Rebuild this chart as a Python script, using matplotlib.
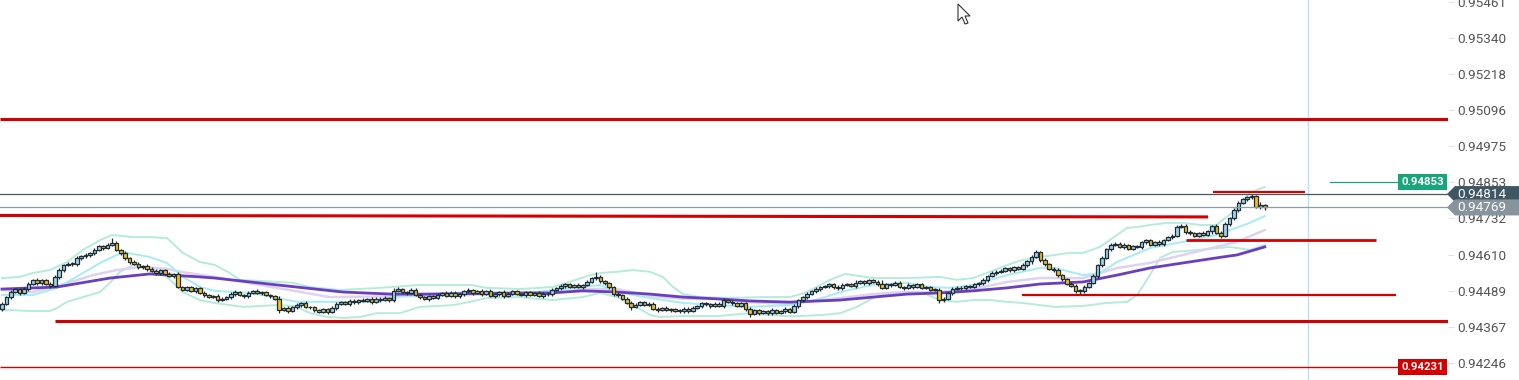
import matplotlib.pyplot as plt
import matplotlib.transforms as mtrans
from matplotlib.patches import Polygon, Rectangle

plt.rcParams['font.family'] = ['Roboto', 'DejaVu Sans']

# candle data (one candle per bar, open = previous close)
first_open = 0.94428
closes = [
    0.94444, 0.94466, 0.94484, 0.94493, 0.94481, 0.94495, 0.94511, 0.94524, 0.94514, 0.94523,
    0.94512, 0.94506, 0.94535, 0.94558, 0.94575, 0.94580, 0.94578, 0.94599, 0.94604, 0.94609,
    0.94615, 0.94625, 0.94638, 0.94634, 0.94644, 0.94650, 0.94625, 0.94615, 0.94597, 0.94585,
    0.94580, 0.94568, 0.94572, 0.94562, 0.94556, 0.94548, 0.94557, 0.94545, 0.94538, 0.94544,
    0.94501, 0.94492, 0.94500, 0.94488, 0.94496, 0.94482, 0.94474, 0.94468, 0.94470, 0.94458,
    0.94462, 0.94468, 0.94477, 0.94484, 0.94474, 0.94470, 0.94482, 0.94487, 0.94480, 0.94483,
    0.94474, 0.94471, 0.94462, 0.94424, 0.94430, 0.94421, 0.94432, 0.94440, 0.94447, 0.94434,
    0.94432, 0.94422, 0.94418, 0.94426, 0.94417, 0.94430, 0.94444, 0.94449, 0.94443, 0.94455,
    0.94450, 0.94458, 0.94455, 0.94460, 0.94451, 0.94462, 0.94458, 0.94463, 0.94456, 0.94488,
    0.94494, 0.94485, 0.94481, 0.94492, 0.94475, 0.94468, 0.94461, 0.94469, 0.94465, 0.94475,
    0.94480, 0.94472, 0.94481, 0.94469, 0.94476, 0.94486, 0.94490, 0.94481, 0.94486, 0.94478,
    0.94487, 0.94471, 0.94477, 0.94483, 0.94472, 0.94479, 0.94486, 0.94478, 0.94474, 0.94483,
    0.94475, 0.94480, 0.94471, 0.94479, 0.94476, 0.94492, 0.94497, 0.94505, 0.94510, 0.94502,
    0.94507, 0.94500, 0.94508, 0.94518, 0.94530, 0.94536, 0.94520, 0.94513, 0.94501, 0.94477,
    0.94473, 0.94462, 0.94447, 0.94435, 0.94442, 0.94449, 0.94441, 0.94444, 0.94428, 0.94424,
    0.94430, 0.94424, 0.94426, 0.94421, 0.94419, 0.94428, 0.94421, 0.94430, 0.94437, 0.94446,
    0.94443, 0.94436, 0.94444, 0.94437, 0.94456, 0.94450, 0.94447, 0.94438, 0.94446, 0.94427,
    0.94411, 0.94422, 0.94414, 0.94420, 0.94413, 0.94423, 0.94415, 0.94421, 0.94426, 0.94418,
    0.94437, 0.94457, 0.94466, 0.94477, 0.94486, 0.94494, 0.94500, 0.94504, 0.94510, 0.94502,
    0.94496, 0.94507, 0.94511, 0.94505, 0.94516, 0.94520, 0.94514, 0.94523, 0.94518, 0.94512,
    0.94499, 0.94510, 0.94508, 0.94516, 0.94502, 0.94499, 0.94507, 0.94500, 0.94510, 0.94499,
    0.94500, 0.94492, 0.94491, 0.94457, 0.94461, 0.94481, 0.94494, 0.94499, 0.94496, 0.94503,
    0.94502, 0.94510, 0.94514, 0.94525, 0.94537, 0.94548, 0.94553, 0.94556, 0.94564, 0.94558,
    0.94567, 0.94563, 0.94575, 0.94587, 0.94602, 0.94618, 0.94592, 0.94577, 0.94563, 0.94558,
    0.94541, 0.94527, 0.94512, 0.94506, 0.94489, 0.94487, 0.94501, 0.94514, 0.94538, 0.94575,
    0.94599, 0.94629, 0.94644, 0.94646, 0.94637, 0.94643, 0.94630, 0.94638, 0.94636, 0.94652,
    0.94658, 0.94644, 0.94652, 0.94645, 0.94659, 0.94668, 0.94673, 0.94703, 0.94708, 0.94686,
    0.94682, 0.94674, 0.94683, 0.94677, 0.94688, 0.94705, 0.94684, 0.94673, 0.94713, 0.94733,
    0.94760, 0.94784, 0.94797, 0.94803, 0.94807, 0.94770, 0.94776, 0.94769,
]
# wick lengths in points (0.00001)
upper_wick = [
    6, 5, 8, 4, 6, 5, 7, 4, 6, 5, 4, 6, 5, 7, 4, 6, 5, 8, 4, 6,
    5, 7, 4, 6, 5, 16, 6, 5, 7, 4, 6, 5, 4, 7, 5, 6, 4, 5, 6, 5,
    7, 5, 6, 4, 5, 6, 7, 5, 4, 6, 5, 4, 7, 6, 5, 4, 6, 5, 7, 4,
    6, 5, 4, 8, 5, 6, 4, 7, 5, 6, 4, 5, 6, 4, 5, 7, 6, 4, 5, 6,
    5, 4, 6, 5, 7, 4, 5, 6, 4, 8, 6, 5, 4, 7, 5, 6, 4, 5, 6, 5,
    4, 6, 5, 7, 4, 5, 6, 4, 5, 7, 5, 6, 4, 5, 7, 4, 6, 5, 4, 6,
    5, 4, 6, 5, 4, 7, 5, 6, 4, 6, 5, 6, 4, 7, 6, 15, 5, 6, 4, 5,
    6, 4, 5, 7, 5, 6, 4, 5, 6, 4, 5, 6, 4, 5, 6, 4, 5, 7, 4, 6,
    5, 4, 6, 5, 7, 4, 6, 5, 4, 6, 5, 4, 6, 5, 4, 6, 5, 4, 7, 5,
    6, 5, 4, 7, 5, 6, 4, 5, 6, 4, 5, 6, 4, 5, 7, 4, 6, 5, 4, 6,
    12, 5, 4, 6, 5, 4, 6, 5, 4, 6, 5, 4, 6, 5, 7, 4, 6, 5, 4, 6,
    5, 6, 4, 7, 5, 6, 4, 5, 6, 4, 5, 4, 6, 5, 7, 8, 5, 6, 4, 5,
    6, 5, 4, 6, 5, 4, 6, 5, 7, 5, 6, 5, 4, 7, 5, 6, 4, 5, 6, 5,
    4, 6, 5, 7, 4, 5, 6, 8, 5, 4, 6, 5, 4, 6, 5, 4, 7, 5, 6, 5,
    6, 5, 4, 6, 8, 5, 10, 4,
]
lower_wick = [
    8, 5, 6, 4, 7, 5, 6, 4, 5, 6, 5, 7, 4, 6, 5, 4, 6, 5, 7, 4,
    6, 5, 4, 7, 5, 6, 4, 5, 6, 5, 4, 6, 5, 7, 4, 5, 6, 4, 5, 7,
    5, 6, 4, 5, 7, 4, 6, 5, 4, 6, 5, 4, 6, 5, 4, 7, 5, 6, 4, 6,
    5, 6, 4, 12, 5, 6, 4, 5, 6, 4, 5, 4, 6, 5, 7, 4, 6, 5, 4, 6,
    5, 6, 4, 5, 7, 4, 6, 5, 4, 6, 5, 4, 6, 5, 4, 7, 5, 6, 4, 6,
    5, 6, 4, 5, 6, 4, 5, 7, 4, 6, 5, 4, 6, 5, 7, 4, 6, 5, 4, 6,
    5, 6, 4, 7, 5, 6, 4, 5, 6, 4, 5, 4, 6, 5, 4, 6, 5, 4, 7, 6,
    5, 6, 4, 10, 5, 6, 4, 5, 6, 8, 5, 4, 6, 5, 7, 4, 6, 5, 4, 6,
    5, 6, 4, 5, 7, 4, 6, 5, 4, 6, 12, 5, 6, 4, 5, 6, 4, 5, 6, 5,
    4, 6, 5, 7, 4, 5, 6, 4, 5, 7, 5, 6, 4, 5, 7, 4, 6, 5, 4, 6,
    5, 4, 6, 5, 4, 7, 5, 6, 4, 6, 5, 6, 4, 10, 8, 5, 6, 4, 5, 6,
    5, 4, 6, 5, 7, 4, 6, 5, 4, 6, 5, 6, 4, 5, 7, 4, 6, 5, 4, 6,
    5, 6, 4, 5, 7, 9, 6, 5, 4, 6, 5, 4, 6, 5, 4, 7, 5, 6, 4, 6,
    5, 6, 4, 5, 7, 4, 6, 5, 4, 6, 5, 4, 6, 5, 4, 8, 5, 6, 4, 6,
    5, 6, 4, 5, 6, 4, 5, 7,
]

# indicator lines (bar index, price)
ma_slow_x = [0, 12.5, 24.5, 33.6, 45, 48.4, 62.5, 77.5, 88.6, 96.1, 117.7, 124.5, 132, 139.8,
             147.3, 154.8, 162.5, 170, 179, 190.5, 198, 205.7, 213.2, 220.7, 228.4, 235.9,
             245.7, 253.4, 260.9, 268.4, 276, 280.7, 287]
ma_slow_y = [0.94494, 0.94501, 0.94531, 0.94545, 0.94535, 0.94531, 0.94508, 0.94484, 0.94477,
             0.94477, 0.94481, 0.94481, 0.94488, 0.94484, 0.94477, 0.94467, 0.94461, 0.94454,
             0.94450, 0.94457, 0.94467, 0.94477, 0.94481, 0.94488, 0.94498, 0.94511, 0.94518,
             0.94541, 0.94565, 0.94582, 0.94599, 0.94609, 0.94636]
ma_mid_x = [0, 7, 14.8, 20.7, 26.1, 31.4, 37.5, 41.1, 48.4, 51.8, 62.5, 74.5, 96.1, 113.2,
            124.5, 132, 139.8, 147.3, 154.8, 162.5, 170, 179, 190.5, 198, 205.7, 213.2, 220.7,
            228.4, 235.9, 245.7, 253.4, 260.9, 268.4, 276, 280.7, 287]
ma_mid_y = [0.94491, 0.94484, 0.94514, 0.94541, 0.94558, 0.94568, 0.94562, 0.94551, 0.94535,
            0.94525, 0.94498, 0.94467, 0.94471, 0.94477, 0.94477, 0.94494, 0.94494, 0.94471,
            0.94461, 0.94461, 0.94450, 0.94444, 0.94464, 0.94477, 0.94484, 0.94484, 0.94494,
            0.94518, 0.94531, 0.94531, 0.94565, 0.94582, 0.94609, 0.94636, 0.94653, 0.94693]
ma_fast_x = [0, 7, 12.5, 18.4, 22.3, 26.1, 28.4, 33.6, 37.5, 41.1, 45, 48.4, 56.4, 61.6, 67,
             75.2, 85.2, 88.6, 96.1, 103, 117.7, 125.2, 132, 135.9, 139.8, 147.3, 154.8, 162.5,
             170, 179, 184.8, 191.6, 198, 205.7, 210.9, 215.5, 220.7, 228.4, 235.9, 239.3,
             245.7, 249.5, 253.4, 260.9, 268.4, 276, 283.6, 287]
ma_fast_y = [0.94474, 0.94474, 0.94498, 0.94548, 0.94582, 0.94609, 0.94616, 0.94602, 0.94582,
             0.94535, 0.94501, 0.94488, 0.94481, 0.94467, 0.94451, 0.94451, 0.94451, 0.94467,
             0.94474, 0.94481, 0.94477, 0.94491, 0.94501, 0.94508, 0.94484, 0.94464, 0.94447,
             0.94440, 0.94434, 0.94440, 0.94457, 0.94488, 0.94508, 0.94515, 0.94501, 0.94498,
             0.94508, 0.94541, 0.94565, 0.94565, 0.94541, 0.94548, 0.94585, 0.94632, 0.94653,
             0.94676, 0.94717, 0.94740]
band_up_x = [0, 4.1, 7, 10.9, 14.8, 18.4, 22.3, 25, 29.8, 33.6, 37.5, 41.1, 45, 48.4, 51.8,
             54.1, 62.5, 66.1, 70, 76.8, 85.9, 95, 106.4, 110.2, 117.7, 125.2, 129, 133, 135.9,
             139.8, 143.4, 147.3, 150.2, 152.5, 154.8, 158.6, 165.5, 173, 179, 182.5, 188.2,
             191.6, 198, 205.7, 213.2, 217, 220.7, 224.5, 228.4, 232, 235.9, 239.3, 242.7,
             245.7, 249.5, 253.4, 255.7, 258, 260.9, 264.8, 268.4, 272.3, 276, 279.8, 283.6, 287]
band_up_y = [0.94531, 0.94535, 0.94548, 0.94558, 0.94585, 0.94626, 0.94659, 0.94676, 0.94669,
             0.94669, 0.94666, 0.94616, 0.94585, 0.94575, 0.94548, 0.94525, 0.94518, 0.94515,
             0.94501, 0.94491, 0.94498, 0.94508, 0.94508, 0.94498, 0.94494, 0.94501, 0.94518,
             0.94538, 0.94548, 0.94552, 0.94558, 0.94552, 0.94535, 0.94501, 0.94477, 0.94467,
             0.94464, 0.94467, 0.94467, 0.94481, 0.94525, 0.94545, 0.94531, 0.94531, 0.94535,
             0.94525, 0.94531, 0.94552, 0.94575, 0.94592, 0.94602, 0.94609, 0.94616, 0.94616,
             0.94636, 0.94676, 0.94700, 0.94703, 0.94710, 0.94717, 0.94717, 0.94710, 0.94710,
             0.94754, 0.94818, 0.94838]
band_lo_x = [0, 7, 10.9, 12.5, 14.8, 18.4, 22.3, 25.2, 26.8, 29.8, 33.6, 37.5, 41.1, 45, 48.4,
             54.8, 62.5, 66.6, 70, 73.9, 77.5, 81.4, 85.2, 90.5, 95, 102.5, 106.4, 110.2, 117.7,
             121.6, 125.2, 132, 135.9, 139.8, 143.4, 147.3, 149.5, 154.8, 162.5, 170, 177.5,
             181.4, 186.6, 190.5, 194.3, 198, 201.8, 205.7, 209.3, 213.2, 217, 220.7, 224.5,
             228.4, 232, 235.9, 239.3, 245.7, 251, 255.7, 258, 260.9, 263.2, 266.1, 272.3, 279,
             283.6, 287]
band_lo_y = [0.94424, 0.94420, 0.94420, 0.94430, 0.94451, 0.94467, 0.94484, 0.94525, 0.94552,
             0.94575, 0.94565, 0.94535, 0.94484, 0.94457, 0.94447, 0.94434, 0.94440, 0.94437,
             0.94413, 0.94400, 0.94397, 0.94400, 0.94413, 0.94413, 0.94434, 0.94440, 0.94451,
             0.94464, 0.94467, 0.94461, 0.94457, 0.94467, 0.94481, 0.94467, 0.94440, 0.94407,
             0.94400, 0.94403, 0.94403, 0.94413, 0.94403, 0.94403, 0.94407, 0.94413, 0.94434,
             0.94464, 0.94481, 0.94484, 0.94481, 0.94457, 0.94451, 0.94457, 0.94457, 0.94451,
             0.94447, 0.94440, 0.94434, 0.94437, 0.94447, 0.94451, 0.94474, 0.94541, 0.94599,
             0.94619, 0.94626, 0.94636, 0.94626, 0.94643]

price_ticks = [0.94246, 0.94367, 0.94489, 0.94610, 0.94732, 0.94853, 0.94975,
               0.95096, 0.95218, 0.95340, 0.95461]

# drawn horizontal levels: price, from bar, to bar, width
red_levels = [
    (0.95067, -0.5, 329.0, 2.2),
    (0.94822, 275.2, 296.1, 1.6),
    (0.94659, 269.1, 312.3, 2.0),
    (0.94474, 231.8, 316.8, 1.6),
    (0.94386, 12.0, 329.0, 2.2),
    (0.94231, -0.5, 317.3, 1.0),
]
red_trend = ([-0.5, 274.1], [0.94742, 0.94737])
ask_price = 0.94814
last_price = 0.94769
alert_price = 0.94853
alert_bars = (301.8, 317.3)
low_mark = 0.94231
cursor_bar = 296.8

fig = plt.figure(figsize=(15.19, 3.80), dpi=100)
ax = fig.add_axes([0, 0, 1448 / 1519, 1])
ax.set_xlim(-0.4545, 328.64)
ax.set_ylim(0.941877, 0.954677)
for s in ax.spines.values():
    s.set_visible(False)
ax.set_xticks([])
ax.yaxis.tick_right()
ax.set_yticks(price_ticks)
ax.set_yticklabels([f'{t:.5f}' for t in price_ticks])
ax.tick_params(axis='y', direction='out', length=4, width=0.8, color='#e3e3e3',
               pad=2.5, labelsize=9.7, labelcolor='#555555')

# indicators
ax.plot(band_up_x, band_up_y, color='#b4ecdc', lw=1.4, zorder=2)
ax.plot(band_lo_x, band_lo_y, color='#b4ecdc', lw=1.4, zorder=2)
ax.plot(ma_mid_x, ma_mid_y, color='#ddd3f1', lw=1.8, zorder=2)
ax.plot(ma_fast_x, ma_fast_y, color='#a6ecf4', lw=1.4, zorder=2)
ax.plot(ma_slow_x, ma_slow_y, color='#6a3fbf', lw=2.0, zorder=2)

# candles
opens = [first_open] + closes[:-1]
idx = list(range(len(closes)))
bottoms, heights, colors, highs, lows = [], [], [], [], []
for o, c, uw, lw_ in zip(opens, closes, upper_wick, lower_wick):
    bottoms.append(min(o, c))
    heights.append(max(abs(c - o), 0.00003))
    colors.append('#9fd6ea' if c >= o else '#f5c211')
    highs.append(max(o, c) + uw * 1e-5)
    lows.append(min(o, c) - lw_ * 1e-5)
ax.vlines(idx, lows, highs, color='#1f2c36', lw=0.9, zorder=3)
ax.bar(idx, heights, bottom=bottoms, width=0.78, color=colors,
       edgecolor='#1f2c36', linewidth=0.9, zorder=4)

# horizontal drawings
for price, x0, x1, w in red_levels:
    ax.plot([x0, x1], [price, price], color='#d40000', lw=w, solid_capstyle='butt', zorder=5)
ax.plot(red_trend[0], red_trend[1], color='#d40000', lw=2.2, solid_capstyle='butt', zorder=5)
ax.axhline(ask_price, color='#455a64', lw=0.9, zorder=5)
ax.axhline(last_price, color='#8d9ba3', lw=0.9, zorder=5)
ax.plot(alert_bars, [alert_price, alert_price], color='#16a67a', lw=0.9, zorder=5)
ax.axvline(cursor_bar, color='#b3e2f7', lw=1.0, zorder=1)

# price labels on the axis
trans = mtrans.blended_transform_factory(ax.transAxes, ax.transData)
h = 8 * 0.000033685


def arrow_label(price, color, text):
    xt, xb, xr = 1447 / 1448, 1455 / 1448, 1.05
    poly = Polygon([[xt, price], [xb, price + h], [xr, price + h], [xr, price - h],
                    [xb, price - h]], closed=True, transform=trans, facecolor=color,
                   edgecolor='none', clip_on=False, zorder=8)
    ax.add_patch(poly)
    ax.text(1457 / 1448, price, text, transform=trans, color='white', fontsize=9.7,
            ha='left', va='center', zorder=9, clip_on=False)


def box_label(price, color, text):
    x0, x1 = 1398 / 1448, 1447 / 1448
    ax.add_patch(Rectangle((x0, price - h), x1 - x0, 2 * h, transform=trans,
                           facecolor=color, edgecolor='none', clip_on=False, zorder=8))
    ax.text((x0 + x1) / 2, price, text, transform=trans, color='white', fontsize=8.2,
            fontweight='bold', ha='center', va='center', zorder=9)


box_label(alert_price, '#16a67a', f'{alert_price:.5f}')
arrow_label(ask_price, '#3f5663', f'{ask_price:.5f}')
arrow_label(last_price, '#87949b', f'{last_price:.5f}')
box_label(low_mark, '#d40000', f'{low_mark:.5f}')

# mouse pointer
pts = [(958, 4), (958, 21), (962, 17), (965, 24), (968, 23), (965, 16), (970, 16)]
ax.add_patch(Polygon([(px / 1448, 1 - py / 380) for px, py in pts], closed=True,
                     transform=ax.transAxes, facecolor='white', edgecolor='#333333',
                     lw=0.8, zorder=10))

fig.savefig('out.png', dpi=100)
